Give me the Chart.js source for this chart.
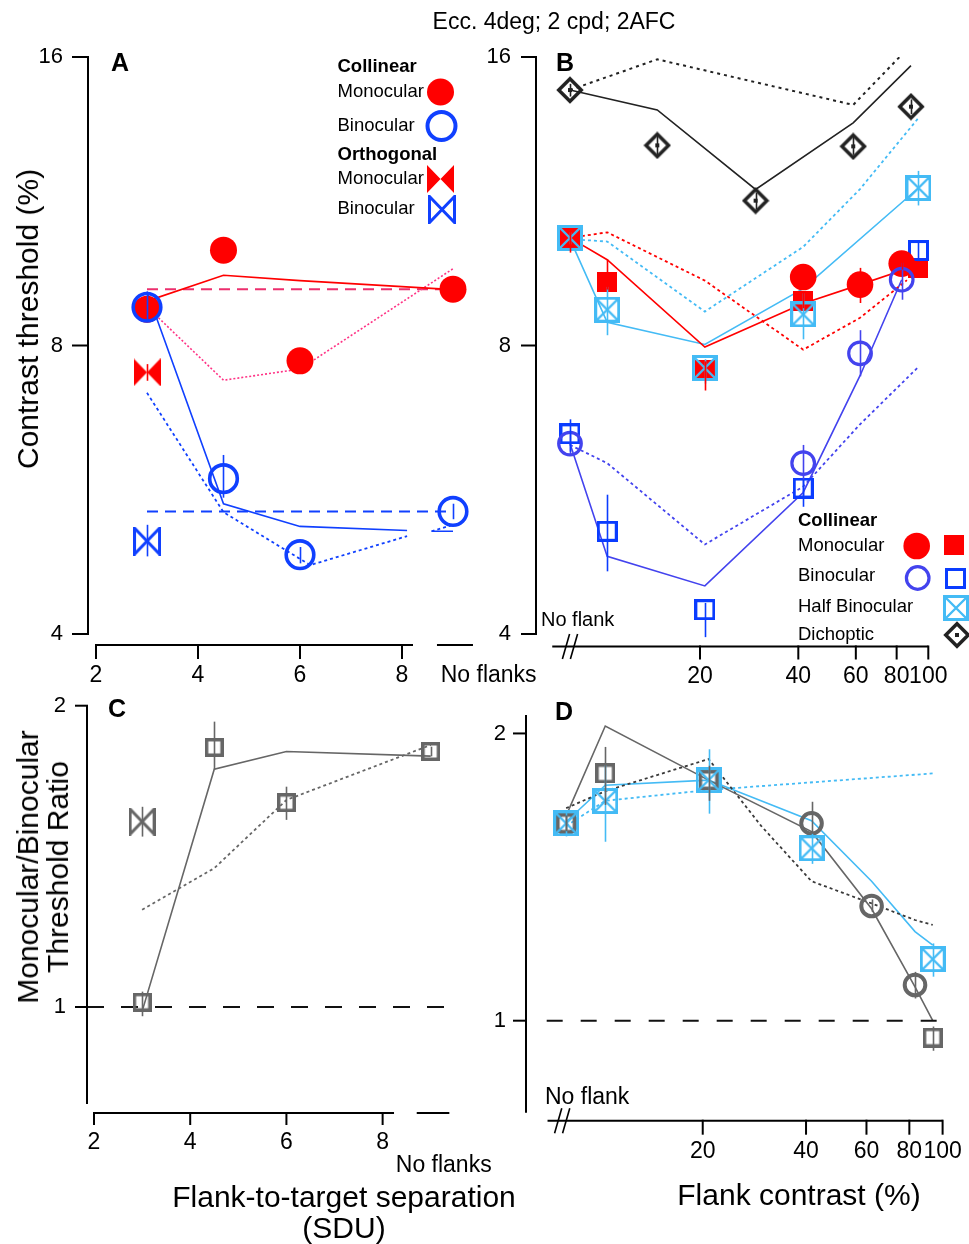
<!DOCTYPE html>
<html><head><meta charset="utf-8">
<script src="https://cdn.jsdelivr.net/npm/chart.js@4.4.0/dist/chart.umd.min.js"></script>
<style>
html,body{margin:0;padding:0;background:#fff;}
body{width:969px;height:1244px;position:relative;overflow:hidden;font-family:"Liberation Sans",Arial,Helvetica,sans-serif;color:#000;}
canvas{position:absolute;}
.t{position:absolute;white-space:nowrap;line-height:1;transform:translateY(-50%);}
.tc{position:absolute;white-space:nowrap;line-height:1;transform:translate(-50%,-50%);text-align:center;}
.rot{position:absolute;white-space:nowrap;line-height:1;transform:translate(-50%,-50%) rotate(-90deg);text-align:center;}
.b{font-weight:bold;}
</style></head><body>
<canvas id="cA"></canvas><canvas id="cB"></canvas><canvas id="cC"></canvas><canvas id="cD"></canvas>

<div class="tc" style="left:554px;top:21px;font-size:23px">Ecc. 4deg; 2 cpd; 2AFC</div>
<div class="rot" style="left:28px;top:319px;font-size:30px">Contrast threshold (%)</div>
<div class="rot" style="left:43px;top:867px;font-size:30px;line-height:30px">Monocular/Binocular<br>Threshold Ratio</div>
<div class="tc" style="left:344px;top:1212px;font-size:30px;line-height:31px">Flank-to-target separation<br>(SDU)</div>
<div class="tc" style="left:799px;top:1195px;font-size:30px">Flank contrast (%)</div>

<div class="t b" style="left:111px;top:61.5px;font-size:25px">A</div>
<div class="t b" style="left:556px;top:61.5px;font-size:25px">B</div>
<div class="t b" style="left:108px;top:707.5px;font-size:25px">C</div>
<div class="t b" style="left:555px;top:710.5px;font-size:25px">D</div>

<div class="t b" style="left:337.5px;top:66px;font-size:18.5px">Collinear</div>
<div class="t" style="left:337.5px;top:90.5px;font-size:18.5px">Monocular</div>
<div class="t" style="left:337.5px;top:125px;font-size:18.5px">Binocular</div>
<div class="t b" style="left:337.5px;top:153.5px;font-size:18.5px">Orthogonal</div>
<div class="t" style="left:337.5px;top:177.5px;font-size:18.5px">Monocular</div>
<div class="t" style="left:337.5px;top:208px;font-size:18.5px">Binocular</div>

<div class="t b" style="left:798px;top:520px;font-size:18.5px">Collinear</div>
<div class="t" style="left:798px;top:545px;font-size:18.5px">Monocular</div>
<div class="t" style="left:798px;top:575px;font-size:18.5px">Binocular</div>
<div class="t" style="left:798px;top:606px;font-size:18.5px">Half Binocular</div>
<div class="t" style="left:798px;top:634px;font-size:18.5px">Dichoptic</div>

<div class="t" style="left:541px;top:619px;font-size:20px">No flank</div>
<div class="t" style="left:545px;top:1096px;font-size:23px">No flank</div>

<script>
// ================= DATA =================
// ---- Panel A: threshold (%) vs flank-to-target separation (SDU); "No flanks" plotted at 9 ----
const aSep = [3, 4.5, 6, 9];
const aColMono = [8.73, 10.06, 7.71, 9.16];
const aColMonoLo = [8.6, 9.9, 7.6, 9.05];
const aColMonoHi = [8.9, 10.2, 7.85, 9.3];
const aColBino = [8.77, 5.81, 4.84, 5.37];
const aColBinoLo = [8.5, 5.55, 4.74, 5.27];
const aColBinoHi = [9.1, 6.15, 4.93, 5.47];
const aOrthoSep = [3];
const aOrthoMono = [7.5];
const aOrthoMonoLo = [7.35];
const aOrthoMonoHi = [7.65];
const aOrthoBino = [5.0];
const aOrthoBinoLo = [4.82];
const aOrthoBinoHi = [5.2];
const aMonoFit = [8.9, 9.47, 9.35, 9.15];
const aMonoModel = [8.78, 7.36, 7.56, 9.62];
const aBaseSep = [3, 9];
const aMonoBase = [9.16, 9.16];
const aBinoBase = [5.37, 5.37];
const aBinoFitSep = [3, 4.5, 6, 8.1, 8.3, 8.58, 9];
const aBinoFit = [9.11, 5.47, 5.18, 5.13, null, 5.12, 5.12];
const aBinoModelSep = [3, 4.5, 6.2, 8.1, 8.3, 8.58, 9];
const aBinoModel = [7.14, 5.36, 4.72, 5.06, null, 5.12, 5.2];
const aYTicks = [4, 8, 16];
const aYTickLabels = ['4', '8', '16'];
const aXTicks = [2, 4, 6, 8, 9.7];
const aXTickLabels = ['2', '4', '6', '8', 'No flanks'];

// ---- Panel B: threshold (%) vs flank contrast (%); "No flank" plotted at 8 ----
const bDichC = [8.0, 14.8, 29.6, 58.9, 88.5];
const bDich = [14.78, 12.94, 11.33, 12.91, 14.2];
const bDichLo = [14.55, 12.65, 11.1, 12.65, 13.95];
const bDichHi = [15.0, 13.25, 11.55, 13.2, 14.45];
const bDichFit = [14.78, 14.09, 11.64, 13.66, 15.67];
const bDichModel = [14.78, 15.91, 15.06, 14.26, 16.46];
const bMonoCircC = [41.4, 61.8, 82.9];
const bMonoCirc = [9.43, 9.26, 9.74];
const bMonoCircLo = [9.3, 8.86, 9.6];
const bMonoCircHi = [9.55, 9.64, 9.9];
const bSqC = [8.0, 10.4, 20.7, 41.4, 93.3];
const bMonoSq = [10.36, 9.31, 7.55, 8.9, 9.64];
const bMonoSqLo = [10.0, 9.15, 7.18, 8.75, 9.5];
const bMonoSqHi = [10.6, 9.84, 7.7, 9.1, 9.8];
const bMonoFitC = [8.0, 10.4, 20.7, 41.4, 61.8, 86];
const bMonoFit = [10.36, 9.83, 7.97, 8.85, 9.26, 9.62];
const bMonoModel = [10.36, 10.5, 9.35, 7.92, 8.55, 9.36];
const bBinoCircC = [8.0, 41.4, 61.8, 82.9];
const bBinoCirc = [6.32, 6.03, 7.85, 9.37];
const bBinoCircLo = [6.15, 5.56, 7.43, 8.93];
const bBinoCircHi = [6.5, 6.3, 8.3, 9.76];
const bBinoSq = [6.47, 5.12, 4.24, 5.68, 10.05];
const bBinoSqLo = [6.2, 4.65, 3.97, 5.43, 9.78];
const bBinoSqHi = [6.7, 5.59, 4.31, 5.8, 10.3];
const bBinoFitC = [8.0, 10.4, 20.7, 41.4, 61.8, 82.9];
const bBinoFit = [6.32, 4.82, 4.49, 5.62, 7.44, 9.37];
const bModelC = [8.0, 10.4, 20.7, 41.4, 61.8, 93.3];
const bBinoModel = [6.3, 6.03, 4.96, 5.7, 6.62, 7.6];
const bHalf = [10.36, 8.72, 7.58, 8.62, 11.68];
const bHalfLo = [10.2, 8.2, 7.3, 8.12, 11.2];
const bHalfHi = [10.5, 9.21, 7.74, 9.07, 12.17];
const bHalfFit = [10.33, 8.46, 8.02, 9.17, 11.68];
const bHalfModel = [10.33, 10.27, 8.68, 10.14, 11.65, 13.82];
const bYTicks = [4, 8, 16];
const bYTickLabels = ['4', '8', '16'];
const bXTicks = [20, 40, 60, 80, 100];
const bXTickLabels = ['20', '40', '60', '80', '100'];

// ---- Panel C: monocular/binocular threshold ratio vs separation ----
const cSep = [3, 4.5, 6, 9];
const cRatio = [1.011, 1.817, 1.60, 1.80];
const cRatioLo = [0.979, 1.726, 1.538, 1.78];
const cRatioHi = [1.036, 1.928, 1.66, 1.82];
const cOrthoSep = [3];
const cOrtho = [1.532];
const cOrthoLo = [1.48];
const cOrthoHi = [1.585];
const cFit = [0.99, 1.728, 1.80, 1.781];
const cModel = [1.251, 1.376, 1.61, 1.827];
const cRefSep = [1.8545, 9.4];
const cRef = [1, 1];
const cYTicks = [1, 2];
const cYTickLabels = ['1', '2'];
const cXTicks = [2, 4, 6, 8, 9.27];
const cXTickLabels = ['2', '4', '6', '8', ['', 'No flanks']];

// ---- Panel D: ratio vs flank contrast ----
const dCircC = [8.0, 41.5, 62.1, 83.1];
const dCirc = [1.61, 1.61, 1.319, 1.09];
const dCircLo = [1.58, 1.571, 1.30, 1.055];
const dCircHi = [1.64, 1.696, 1.34, 1.125];
const dSqC = [8.0, 10.4, 20.8, 93.6];
const dSq = [1.61, 1.816, 1.787, 0.96];
const dSqLo = [1.58, 1.683, 1.70, 0.93];
const dSqHi = [1.64, 1.936, 1.85, 0.986];
const dHalfC = [8.0, 10.4, 20.8, 41.5, 93.6];
const dHalf = [1.61, 1.699, 1.787, 1.516, 1.16];
const dHalfLo = [1.56, 1.54, 1.648, 1.46, 1.112];
const dHalfHi = [1.66, 1.853, 1.925, 1.57, 1.205];
const dFitC = [8.0, 10.4, 20.8, 41.5, 62.1, 83.1, 93.6];
const dFit = [1.64, 2.036, 1.787, 1.578, 1.31, 1.085, 1.0];
const dHalfFit = [1.616, 1.765, 1.787, 1.62, 1.40, 1.24, 1.20];
const dModelC = [8.0, 10.4, 14.8, 20.8, 29.6, 41.5, 62.1, 83.1, 93.6];
const dModel = [1.67, 1.74, 1.81, 1.88, 1.60, 1.40, 1.327, 1.275, 1.26];
const dHalfModelC = [8.0, 10.4, 20.8, 93.6];
const dHalfModel = [1.60, 1.70, 1.745, 1.816];
const dRefC = [7.02, 96.1];
const dRef = [1, 1];
const dYTicks = [1, 2];
const dYTickLabels = ['1', '2'];
const dXTicks = [20, 40, 60, 80, 100];
const dXTickLabels = ['20', '40', '60', '80', '100'];

// ================= STYLE =================
const FONT = "'Liberation Sans', Arial, Helvetica, sans-serif";
const RED = '#ff0000', BLUE_A = '#1040ff', VIOLET = '#4343ee', BLUE_SQ = '#0a3cff',
      CYAN = '#44bbf5', BLACK = '#222222', GRAY = '#666666', DGRAY = '#3a3a3a',
      PINK_D = '#ec2f6e', PINK_O = '#ff3385';

function mkCanvas(w, h, fn) { const c = document.createElement('canvas'); c.width = w; c.height = h; fn(c.getContext('2d'), w, h); return c; }
function bowtie(color, filled, w, h, lw) {
  return mkCanvas(w, h, (g) => {
    const i = filled ? 0 : lw / 2;
    g.beginPath();
    g.moveTo(i, i); g.lineTo(w / 2, h / 2); g.lineTo(i, h - i); g.closePath();
    g.moveTo(w - i, i); g.lineTo(w / 2, h / 2); g.lineTo(w - i, h - i); g.closePath();
    if (filled) { g.fillStyle = color; g.fill(); }
    else { g.strokeStyle = color; g.lineWidth = lw; g.stroke(); }
  });
}
function square(color, filled, s, lw) {
  return mkCanvas(s, s, (g) => {
    if (filled) { g.fillStyle = color; g.fillRect(0, 0, s, s); }
    else { g.strokeStyle = color; g.lineWidth = lw; g.strokeRect(lw / 2, lw / 2, s - lw, s - lw); }
  });
}
function xsquare(color, s, lw) {
  return mkCanvas(s, s, (g) => {
    g.strokeStyle = color; g.lineWidth = lw; g.strokeRect(lw / 2, lw / 2, s - lw, s - lw);
    g.lineWidth = lw * 0.8; g.beginPath();
    g.moveTo(lw, lw); g.lineTo(s - lw, s - lw); g.moveTo(s - lw, lw); g.lineTo(lw, s - lw); g.stroke();
  });
}
function diamond(color, s, lw) {
  return mkCanvas(s, s, (g) => {
    const i = lw / 2 + 1;
    g.strokeStyle = color; g.lineWidth = lw; g.beginPath();
    g.moveTo(s / 2, i); g.lineTo(s - i, s / 2); g.lineTo(s / 2, s - i); g.lineTo(i, s / 2); g.closePath(); g.stroke();
    g.fillStyle = color; g.fillRect(s / 2 - 2, s / 2 - 2, 4, 4);
  });
}
const IMG = {
  bowRed: bowtie(RED, true, 27, 28, 0),
  bowBlue: bowtie(BLUE_A, false, 28, 29, 3),
  bowGray: bowtie(GRAY, false, 27, 28, 3),
  sqRed: square(RED, true, 20, 0),
  sqBlue: square(BLUE_SQ, false, 21, 3),
  sqGray: square(GRAY, false, 19, 3.5),
  sqGrayD: square(GRAY, false, 20, 3.5),
  xsqCyan: xsquare(CYAN, 26, 3),
  diaBlack: diamond(BLACK, 28, 3.5)
};

function pts(xs, ys) { return xs.map((x, i) => ({ x: x, y: ys[i] })); }
function line(xs, ys, color, dash, w, extra) {
  return Object.assign({ data: pts(xs, ys), showLine: true, borderColor: color, borderWidth: w, borderDash: dash,
    pointRadius: 0, pointHoverRadius: 0, fill: false, tension: 0, spanGaps: false, clip: false, order: 10 }, extra || {});
}
function imgMarks(xs, ys, lo, hi, img, color, order) {
  return { data: pts(xs, ys), showLine: false, pointStyle: img, pointRadius: 10, pointHoverRadius: 10,
    errLo: lo, errHi: hi, errColor: color, clip: false, order: order };
}
function circMarks(xs, ys, lo, hi, r, fill, stroke, bw, order) {
  return { data: pts(xs, ys), showLine: false, pointStyle: 'circle', pointRadius: r, pointHoverRadius: r,
    pointBackgroundColor: fill, pointBorderColor: stroke, pointBorderWidth: bw, pointHoverBorderWidth: bw,
    errLo: lo, errHi: hi, errColor: stroke, clip: false, order: order };
}

// ================= PLUGINS =================
const errPlugin = {
  id: 'errbars',
  afterDatasetsDraw(chart) {
    const ctx = chart.ctx, xs = chart.scales.x, ys = chart.scales.y;
    chart.data.datasets.forEach((ds) => {
      if (!ds.errLo) return;
      ctx.save(); ctx.strokeStyle = ds.errColor; ctx.lineWidth = 1.6;
      ds.data.forEach((p, j) => {
        const px = Math.round(xs.getPixelForValue(p.x)) + 0.5;
        ctx.beginPath();
        ctx.moveTo(px, ys.getPixelForValue(ds.errLo[j]));
        ctx.lineTo(px, ys.getPixelForValue(ds.errHi[j]));
        ctx.stroke();
      });
      ctx.restore();
    });
  }
};
function makeAxesPlugin(o) {
  return {
    id: 'axesDraw',
    afterDraw(chart) {
      const ctx = chart.ctx, xs = chart.scales.x, ys = chart.scales.y, A = chart.chartArea;
      const L = (x1, y1, x2, y2) => { ctx.beginPath(); ctx.moveTo(x1, y1); ctx.lineTo(x2, y2); ctx.stroke(); };
      ctx.save(); ctx.strokeStyle = '#000'; ctx.lineWidth = 2; ctx.lineCap = 'butt';
      const yx = A.left;
      L(yx, A.top, yx, A.bottom);
      o.yTicks.forEach(v => { const py = ys.getPixelForValue(v); L(yx - o.yLen, py, yx + 1, py); });
      const xy = A.bottom + o.xOff;
      o.xSegs.forEach(s => L(xs.getPixelForValue(s[0]), xy, xs.getPixelForValue(s[1]), xy));
      o.xTicks.forEach(v => { const px = xs.getPixelForValue(v); L(px, xy - 1, px, xy + o.xLen); });
      if (o.brk !== undefined) {
        const cx = xs.getPixelForValue(o.brk) + (o.brkDx || 0);
        ctx.lineWidth = 1.6;
        [-4, 4].forEach(k => L(cx + k - 3.6, xy + 12.5, cx + k + 3.6, xy - 12.5));
      }
      ctx.restore();
    }
  };
}
function makeLegendPlugin(items, ox, oy) {
  return {
    id: 'legendMarks',
    afterDraw(chart) {
      const ctx = chart.ctx;
      ctx.save();
      items.forEach(m => {
        const x = m.x - ox, y = m.y - oy;
        if (m.img) { ctx.drawImage(m.img, Math.round(x - m.img.width / 2), Math.round(y - m.img.height / 2)); return; }
        ctx.beginPath(); ctx.arc(x, y, m.r, 0, Math.PI * 2);
        if (m.fill) { ctx.fillStyle = m.fill; ctx.fill(); }
        if (m.stroke) { ctx.strokeStyle = m.stroke; ctx.lineWidth = m.lw; ctx.stroke(); }
      });
      ctx.restore();
    }
  };
}
function zeroPad(s) { s.paddingLeft = 0; s.paddingRight = 0; s.paddingTop = 0; s.paddingBottom = 0; }

function panel(id, rect, area, xc, yc, datasets, axesOpt, legendItems) {
  const cv = document.getElementById(id);
  cv.width = rect.w; cv.height = rect.h;
  cv.style.left = rect.x + 'px'; cv.style.top = rect.y + 'px';
  cv.style.width = rect.w + 'px'; cv.style.height = rect.h + 'px';
  const plugins = [makeAxesPlugin(axesOpt), errPlugin];
  if (legendItems) plugins.push(makeLegendPlugin(legendItems, rect.x, rect.y));
  return new Chart(cv, {
    type: 'scatter',
    data: { datasets: datasets },
    options: {
      responsive: false, animation: false, devicePixelRatio: 1, events: [],
      layout: { autoPadding: false, padding: { left: 0, top: area.top - rect.y, right: rect.x + rect.w - area.right, bottom: 0 } },
      plugins: { legend: { display: false }, tooltip: { enabled: false } },
      scales: {
        x: {
          type: xc.type, min: xc.min, max: xc.max, position: 'bottom',
          afterFit(s) { s.height = rect.y + rect.h - area.bottom; zeroPad(s); },
          afterBuildTicks(s) { s.ticks = xc.ticks.map(v => ({ value: v })); },
          grid: { display: false, drawTicks: false }, border: { display: false },
          ticks: { autoSkip: false, maxRotation: 0, minRotation: 0, padding: xc.pad, color: '#000',
            font: { family: FONT, size: xc.fs, lineHeight: xc.lh || 1.2 }, callback: (v, i) => xc.labels[i] }
        },
        y: {
          type: yc.type, min: yc.min, max: yc.max, position: 'left',
          afterFit(s) { s.width = area.left - rect.x; zeroPad(s); },
          afterBuildTicks(s) { s.ticks = yc.ticks.map(v => ({ value: v })); },
          grid: { display: false, drawTicks: false }, border: { display: false },
          ticks: { autoSkip: false, padding: yc.pad, color: '#000',
            font: { family: FONT, size: yc.fs }, callback: (v, i) => yc.labels[i] }
        }
      }
    },
    plugins: plugins
  });
}

// ================= PANEL A =================
panel('cA', { x: 0, y: 30, w: 560, h: 680 }, { left: 88, top: 57, right: 500, bottom: 634 },
  { type: 'linear', min: 1.843, max: 9.922, ticks: aXTicks, labels: aXTickLabels, pad: 28, fs: 23 },
  { type: 'logarithmic', min: 4, max: 16, ticks: aYTicks, labels: aYTickLabels, pad: 25, fs: 22 },
  [
    line(aSep, aMonoFit, RED, [], 1.6),
    line(aSep, aMonoModel, PINK_O, [2, 2], 1.6),
    line(aBaseSep, aMonoBase, PINK_D, [11, 7], 2),
    line(aBinoFitSep, aBinoFit, BLUE_A, [], 1.6),
    line(aBinoModelSep, aBinoModel, BLUE_A, [3, 3], 1.8),
    line(aBaseSep, aBinoBase, BLUE_A, [11, 7], 2),
    circMarks(aSep, aColMono, aColMonoLo, aColMonoHi, 13.5, RED, RED, 0, 3),
    circMarks(aSep, aColBino, aColBinoLo, aColBinoHi, 13.8, 'rgba(0,0,0,0)', BLUE_A, 3.6, 2),
    imgMarks(aOrthoSep, aOrthoMono, aOrthoMonoLo, aOrthoMonoHi, IMG.bowRed, RED, 2),
    imgMarks(aOrthoSep, aOrthoBino, aOrthoBinoLo, aOrthoBinoHi, IMG.bowBlue, BLUE_A, 2)
  ],
  { yTicks: aYTicks, yLen: 16, xOff: 11, xSegs: [[2, 8.216], [8.686, 9.392]], xTicks: [2, 4, 6, 8], xLen: 14 },
  [
    { x: 440.5, y: 92, r: 13.5, fill: RED },
    { x: 441.5, y: 126, r: 14, stroke: BLUE_A, lw: 4 },
    { x: 440.5, y: 179, img: IMG.bowRed },
    { x: 441.5, y: 209, img: IMG.bowBlue }
  ]
);

// ================= PANEL B =================
panel('cB', { x: 470, y: 30, w: 499, h: 680 }, { left: 536, top: 57, right: 928.3, bottom: 634 },
  { type: 'logarithmic', min: 6.296, max: 100, ticks: bXTicks, labels: bXTickLabels, pad: 29, fs: 23 },
  { type: 'logarithmic', min: 4, max: 16, ticks: bYTicks, labels: bYTickLabels, pad: 25, fs: 22 },
  [
    line(bDichC, bDichFit, BLACK, [], 1.6),
    line(bDichC, bDichModel, BLACK, [3, 4], 2, { clip: { left: false, right: false, bottom: false, top: 0 } }),
    line(bMonoFitC, bMonoFit, RED, [], 1.6),
    line(bMonoFitC, bMonoModel, RED, [3, 3], 1.8),
    line(bBinoFitC, bBinoFit, VIOLET, [], 1.6),
    line(bModelC, bBinoModel, VIOLET, [3, 3], 1.8),
    line(bSqC, bHalfFit, CYAN, [], 1.6),
    line(bModelC, bHalfModel, CYAN, [3, 3], 1.8),
    imgMarks(bDichC, bDich, bDichLo, bDichHi, IMG.diaBlack, BLACK, 1),
    imgMarks(bSqC, bHalf, bHalfLo, bHalfHi, IMG.xsqCyan, CYAN, 1),
    circMarks(bBinoCircC, bBinoCirc, bBinoCircLo, bBinoCircHi, 11.3, 'rgba(0,0,0,0)', VIOLET, 3.2, 2),
    imgMarks(bSqC, bBinoSq, bBinoSqLo, bBinoSqHi, IMG.sqBlue, BLUE_SQ, 3),
    circMarks(bMonoCircC, bMonoCirc, bMonoCircLo, bMonoCircHi, 13.3, RED, RED, 0, 2),
    imgMarks(bSqC, bMonoSq, bMonoSqLo, bMonoSqHi, IMG.sqRed, RED, 3)
  ],
  { yTicks: bYTicks, yLen: 15, xOff: 12.5, xSegs: [[7.06, 100]], xTicks: bXTicks, xLen: 13, brk: 8.0 },
  [
    { x: 916.7, y: 546, r: 13.3, fill: RED },
    { x: 954, y: 545, img: IMG.sqRed },
    { x: 917.7, y: 578, r: 11.3, stroke: VIOLET, lw: 3.2 },
    { x: 955.7, y: 578, img: IMG.sqBlue },
    { x: 956, y: 608, img: IMG.xsqCyan },
    { x: 956.7, y: 635, img: IMG.diaBlack }
  ]
);

// ================= PANEL C =================
panel('cC', { x: 0, y: 690, w: 520, h: 554 }, { left: 87, top: 705.7, right: 500, bottom: 1104 },
  { type: 'linear', min: 1.8545, max: 10.44, ticks: cXTicks, labels: cXTickLabels, pad: 27, fs: 23, lh: 1.0 },
  { type: 'logarithmic', min: 0.8, max: 2, ticks: cYTicks, labels: cYTickLabels, pad: 21, fs: 22 },
  [
    line(cRefSep, cRef, '#111111', [17, 17], 2),
    line(cSep, cFit, GRAY, [], 1.6),
    line(cSep, cModel, GRAY, [3, 3], 1.8),
    imgMarks(cSep, cRatio, cRatioLo, cRatioHi, IMG.sqGray, GRAY, 2),
    imgMarks(cOrthoSep, cOrtho, cOrthoLo, cOrthoHi, IMG.bowGray, GRAY, 2)
  ],
  { yTicks: cYTicks, yLen: 12, xOff: 9, xSegs: [[2, 8.237], [8.709, 9.387]], xTicks: [2, 4, 6, 8], xLen: 12 }
);

// ================= PANEL D =================
panel('cD', { x: 470, y: 690, w: 499, h: 554 }, { left: 526, top: 715, right: 942.6, bottom: 1112.7 },
  { type: 'logarithmic', min: 6.11, max: 100, ticks: dXTicks, labels: dXTickLabels, pad: 25, fs: 23 },
  { type: 'logarithmic', min: 0.8009, max: 2.091, ticks: dYTicks, labels: dYTickLabels, pad: 20, fs: 22 },
  [
    line(dRefC, dRef, '#111111', [16, 18], 2),
    line(dFitC, dFit, GRAY, [], 1.6),
    line(dModelC, dModel, DGRAY, [3, 3], 1.8),
    line(dFitC, dHalfFit, CYAN, [], 1.6),
    line(dHalfModelC, dHalfModel, CYAN, [3, 3], 1.8),
    imgMarks(dHalfC, dHalf, dHalfLo, dHalfHi, IMG.xsqCyan, CYAN, 1),
    circMarks(dCircC, dCirc, dCircLo, dCircHi, 10.3, 'rgba(0,0,0,0)', GRAY, 4, 2),
    imgMarks(dSqC, dSq, dSqLo, dSqHi, IMG.sqGrayD, GRAY, 3)
  ],
  { yTicks: dYTicks, yLen: 13, xOff: 8, xSegs: [[7.06, 100]], xTicks: dXTicks, xLen: 14, brk: 8.0, brkDx: -4 }
);
</script>
</body></html>
